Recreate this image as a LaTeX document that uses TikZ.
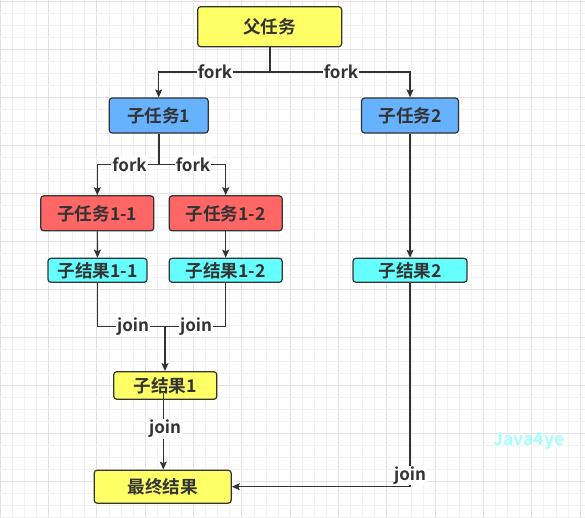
\documentclass[tikz,border=0pt]{standalone}
\usepackage{fontspec}
\setmainfont{Noto Sans CJK SC}[BoldFont={Noto Sans CJK SC Bold}]
\usetikzlibrary{arrows.meta}
\definecolor{ink}{HTML}{333333}
\definecolor{cyel}{HTML}{FFFF66}
\definecolor{cblue}{HTML}{66B2FF}
\definecolor{cred}{HTML}{FF6666}
\definecolor{ccyan}{HTML}{66FFFF}
\definecolor{gminor}{HTML}{F2F2F2}
\definecolor{gmajor}{HTML}{E2E2E2}
\definecolor{wm}{HTML}{A6FFFF}
\tikzset{
  box/.style={draw=ink, line width=1.2pt, rounded corners=3pt, text=ink,
    font=\bfseries\fontsize{17.6}{19}\selectfont, inner sep=0pt},
  lbl/.style={fill=white, text=ink, inner sep=1pt,
    font=\bfseries\fontsize{17}{19}\selectfont},
  conn/.style={draw=ink, line width=1.2pt},
  arr/.style={conn, -{Stealth[length=8pt,width=7pt,inset=1.5pt]}},
}
\begin{document}
\begin{tikzpicture}[x=1pt,y=-1pt]
\useasboundingbox (0,0) rectangle (585,517);
% grid
\foreach \i in {0,...,48} {
  \pgfmathtruncatemacro{\m}{mod(\i,4)}
  \ifnum\m=0
    \draw[gmajor, line width=0.9pt] (\i*12.08+0.3,0) -- (\i*12.08+0.3,517);
  \else
    \draw[gminor, line width=0.9pt] (\i*12.08+0.3,0) -- (\i*12.08+0.3,517);
  \fi
}
\foreach \i in {0,...,43} {
  \pgfmathtruncatemacro{\m}{mod(\i,4)}
  \ifnum\m=0
    \draw[gmajor, line width=0.9pt] (0,\i*12+1.3) -- (585,\i*12+1.3);
  \else
    \draw[gminor, line width=0.9pt] (0,\i*12+1.3) -- (585,\i*12+1.3);
  \fi
}
% nodes
\node[box, fill=cyel, minimum width=144pt, minimum height=40pt] (fu) at (269.7,26.7) {父任务};
\node[box, fill=cblue, minimum width=99pt, minimum height=35pt] (t1) at (158.7,115.5) {子任务1};
\node[box, fill=cblue, minimum width=97pt, minimum height=35pt] (t2) at (410,115.5) {子任务2};
\node[box, fill=cred, minimum width=113pt, minimum height=35pt] (t11) at (97.3,213.3) {子任务1-1};
\node[box, fill=cred, minimum width=113pt, minimum height=35pt] (t12) at (225.7,213.3) {子任务1-2};
\node[box, fill=ccyan, minimum width=99pt, minimum height=24pt] (r11) at (97.5,270.3) {子结果1-1};
\node[box, fill=ccyan, minimum width=113pt, minimum height=24pt] (r12) at (225.7,270.3) {子结果1-2};
\node[box, fill=ccyan, minimum width=114pt, minimum height=24pt] (r2) at (410,270.3) {子结果2};
\node[box, fill=cyel, minimum width=103pt, minimum height=27.6pt] (r1) at (165.3,385.5) {子结果1};
\node[box, fill=cyel, minimum width=137pt, minimum height=33pt] (fin) at (162.7,486.7) {最终结果};
% junction coordinates
\coordinate (j0) at (270,72);
\coordinate (j1) at (159,164.5);
\coordinate (j2) at (165,326.7);
\coordinate (s1) at (163.3,393);
\coordinate (c2) at (410,486.7);
% connectors
\draw[conn] (fu.south -| j0) -- (j0);
\draw[arr] (j0) -| (t1.north);
\draw[arr] (j0) -| (t2.north);
\draw[conn] (t1.south -| j1) -- (j1);
\draw[arr] (j1) -| (t11.north);
\draw[arr] (j1) -| (t12.north);
\draw[arr] (t11) -- (r11);
\draw[arr] (t12) -- (r12);
\draw[arr] (t2) -- (r2);
\draw[conn] (r11.south) |- (j2);
\draw[conn] (r12.south) |- (j2);
\draw[arr] (j2) -- (r1.north -| j2);
\draw[arr] (s1) -- (fin.north -| s1);
\draw[arr] (r2.south) |- (c2) -- (fin.east);
% labels
\node[lbl] (lf1) at (215,72) {fork};
\node[lbl] (lf2) at (341,72) {fork};
\node[lbl] (lf3) at (129.5,164.5) {fork};
\node[lbl] (lf4) at (193,164.5) {fork};
\node[lbl] (lj1) at (133,326.7) {join};
\node[lbl] (lj2) at (196,326.7) {join};
\node[lbl] (lj3) at (165,429) {join};
\node[lbl] (lj4) at (410,475.5) {join};
% watermark
\node[text=wm, font=\bfseries\fontsize{17.5}{19}\selectfont, inner sep=0pt] (wmk) at (529,441) {Java4ye};
\end{tikzpicture}
\end{document}
